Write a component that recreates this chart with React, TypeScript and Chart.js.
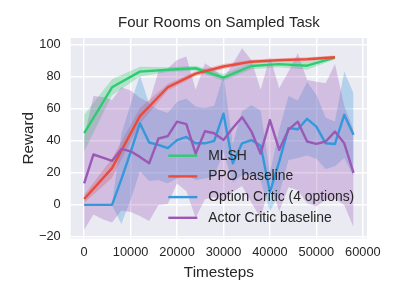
import React, { useEffect, useRef } from 'react';
import { Chart, registerables } from 'chart.js';

Chart.register(...registerables);

// ---- data ----
const stepsCoarse = [0, 6000, 12000, 18000, 24000, 30000, 36000, 42000, 48000, 54000];
const mlshMean = [44.8, 73.5, 83.3, 84.5, 85.4, 79.6, 86.8, 88.0, 87.0, 92.0];
const mlshStd = [11.5, 5, 3, 1.5, 1.5, 2.2, 2, 2, 2.6, 1];
const ppoMean = [3.7, 23.0, 55.5, 73.5, 82.0, 86.5, 89.5, 90.5, 91.0, 92.3];
const ppoStd = [2.5, 6, 5, 2, 1.5, 1.5, 1.2, 1.2, 1.2, 1];

const stepsFine = [
  0, 2000, 4000, 6000, 8000, 10000, 12000, 14000, 16000, 18000,
  20000, 22000, 24000, 26000, 28000, 30000, 32000, 34000, 36000, 38000,
  40000, 42000, 44000, 46000, 48000, 50000, 52000, 54000, 56000, 58000,
];
const ocMean = [
  0, 0, 0, 0, 16, 33, 51, 39, 37.5, 35.5,
  40.5, 42.5, 38.5, 38.5, 40, 57, 26, 38.5, 40.5, 37,
  8, 27, 48, 47.3, 53.8, 48.9, 38.5, 38.1, 56.3, 43.8,
];
const ocStd = [
  0, 0, 0, 0, 28, 30, 30, 24, 22, 22,
  24, 24, 23, 22, 22, 24, 12, 20, 22, 22,
  12, 20, 20, 18, 23, 20, 16, 14, 27, 26,
];
const acMean = [
  13.5, 31.5, 29.5, 27.5, 35, 33.5, 30, 26, 41.5, 43,
  52, 50.5, 32, 46, 44.8, 40.6, 48, 54.8, 46, 32,
  53, 34.4, 47, 52, 39.6, 38.1, 39.6, 45.8, 38.5, 20,
];
const acLower = [
  -15.6, -6, -9, -11, -3.5, -4.5, -7, -10, 0, 0.6,
  13.4, 8.5, -8, 3.5, 4.8, 2, 8, 11.8, 1.4, -8,
  13.3, -4, 11, 9.2, 1.1, -1, 3.2, 3.8, 0, -14,
];
const acUpper = [
  42.6, 68, 67.5, 65.5, 73.5, 71.5, 67, 64, 83.3, 85.4,
  90.6, 92.7, 71.9, 88.5, 84.8, 79.2, 88, 97.9, 90.6, 71.9,
  92.7, 72.9, 83.3, 94.8, 78.1, 77, 76, 88, 62, 47,
];

const seriesNames = ['MLSH', 'PPO baseline', 'Option Critic (4 options)', 'Actor Critic baseline'];
const seriesColors = ['#2ecc71', '#e74c3c', '#3498db', '#9b59b6'];
const bandColors = ['rgba(46,204,113,0.3)', 'rgba(231,76,60,0.3)', 'rgba(52,152,219,0.3)', 'rgba(155,89,182,0.3)'];

const xTicks = [0, 10000, 20000, 30000, 40000, 50000, 60000];
const yTicks = [-20, 0, 20, 40, 60, 80, 100];

const FONT = "'Liberation Sans', Arial, sans-serif";
const TEXT = '#262626';

function pts(xs: number[], ys: number[]) {
  return xs.map((x, i) => ({ x, y: ys[i] }));
}

function bandFromBounds(xs: number[], lower: number[], upper: number[], color: string, order: number) {
  return [
    {
      label: '_lower',
      data: pts(xs, lower),
      borderColor: 'transparent',
      borderWidth: 0,
      pointRadius: 0,
      fill: false,
      order,
    },
    {
      label: '_upper',
      data: pts(xs, upper),
      borderColor: 'transparent',
      borderWidth: 0,
      pointRadius: 0,
      backgroundColor: color,
      fill: '-1',
      order,
    },
  ];
}

function band(xs: number[], mean: number[], std: number[], color: string, order: number) {
  return bandFromBounds(
    xs,
    mean.map((m, i) => m - std[i]),
    mean.map((m, i) => m + std[i]),
    color,
    order,
  );
}

function line(xs: number[], ys: number[], idx: number, order: number) {
  return {
    label: seriesNames[idx],
    data: pts(xs, ys),
    borderColor: seriesColors[idx],
    backgroundColor: seriesColors[idx],
    borderWidth: 2.4,
    pointRadius: 0,
    fill: false,
    tension: 0,
    borderJoinStyle: 'round' as const,
    order,
  };
}

const bgPlugin = {
  id: 'bgPlugin',
  beforeDraw(chart: any) {
    const { ctx, chartArea } = chart;
    ctx.save();
    ctx.fillStyle = '#ffffff';
    ctx.fillRect(0, 0, chart.width, chart.height);
    ctx.fillStyle = '#EAEAF2';
    ctx.fillRect(chartArea.left, chartArea.top, chartArea.right - chartArea.left, chartArea.bottom - chartArea.top);
    ctx.restore();
  },
};

const legendPlugin = {
  id: 'mplLegend',
  afterDraw(chart: any) {
    const { ctx, chartArea } = chart;
    ctx.save();
    ctx.font = `13.9px ${FONT}`;
    ctx.textBaseline = 'middle';
    ctx.textAlign = 'left';
    const x0 = chartArea.left + 97.6;
    const y0 = chartArea.top + 117.7;
    seriesNames.forEach((name, i) => {
      const y = y0 + i * 20.7;
      ctx.strokeStyle = seriesColors[i];
      ctx.lineWidth = 2.4;
      ctx.beginPath();
      ctx.moveTo(x0, y);
      ctx.lineTo(x0 + 29, y);
      ctx.stroke();
      ctx.fillStyle = TEXT;
      ctx.fillText(name, x0 + 40, y);
    });
    ctx.restore();
  },
};

export default function App() {
  const ref = useRef<HTMLCanvasElement>(null);
  useEffect(() => {
    const canvas = ref.current;
    if (!canvas) return;
    const datasets: any[] = [
      line(stepsFine, acMean, 3, 0),
      line(stepsFine, ocMean, 2, 1),
      line(stepsCoarse, ppoMean, 1, 2),
      line(stepsCoarse, mlshMean, 0, 3),
      ...bandFromBounds(stepsFine, acLower, acUpper, bandColors[3], 4),
      ...band(stepsFine, ocMean, ocStd, bandColors[2], 5),
      ...band(stepsCoarse, ppoMean, ppoStd, bandColors[1], 6),
      ...band(stepsCoarse, mlshMean, mlshStd, bandColors[0], 7),
    ];
    const chart = new Chart(canvas, {
      type: 'line',
      data: { datasets },
      plugins: [bgPlugin, legendPlugin],
      options: {
        animation: false,
        responsive: false,
        devicePixelRatio: 1,
        layout: { padding: { left: 0, right: 33, top: 0, bottom: 0 } },
        plugins: {
          legend: { display: false },
          tooltip: { enabled: false },
          title: {
            display: true,
            fullSize: false,
            align: 'center',
            text: 'Four Rooms on Sampled Task',
            color: TEXT,
            font: { size: 15, family: FONT, weight: 'normal' },
            padding: { top: 13.5, bottom: 6.5 },
          },
        },
        scales: {
          x: {
            type: 'linear',
            min: -2900,
            max: 60900,
            afterBuildTicks: (s: any) => {
              s.ticks = xTicks.map((v) => ({ value: v }));
            },
            afterFit: (s: any) => {
              s.height = 61.5;
            },
            ticks: {
              color: TEXT,
              font: { size: 12.8, family: FONT },
              padding: 6.2,
              maxRotation: 0,
              callback: (v: any) => String(v),
            },
            grid: { color: '#ffffff', lineWidth: 1.4, drawTicks: false },
            border: { display: false },
            title: {
              display: true,
              text: 'Timesteps',
              color: TEXT,
              font: { size: 15.3, family: FONT },
              padding: { top: 0, bottom: 17.8 },
            },
          },
          y: {
            type: 'linear',
            min: -21,
            max: 104.3,
            afterBuildTicks: (s: any) => {
              s.ticks = yTicks.map((v) => ({ value: v }));
            },
            afterFit: (s: any) => {
              s.width = 70.7;
            },
            ticks: {
              color: TEXT,
              font: { size: 12.8, family: FONT },
              padding: 10,
              callback: (v: any) => (v < 0 ? '\u2212' + Math.abs(v) : String(v)),
            },
            grid: { color: '#ffffff', lineWidth: 1.4, drawTicks: false },
            border: { display: false },
            title: {
              display: true,
              text: 'Reward',
              color: TEXT,
              font: { size: 15.3, family: FONT },
              padding: { top: 20, bottom: 0 },
            },
          },
        },
      },
    } as any);
    return () => chart.destroy();
  }, []);
  return (
    <div style={{ position: 'fixed', left: 0, top: 0, width: 400, height: 300, background: '#ffffff' }}>
      <canvas ref={ref} width={400} height={300} style={{ display: 'block' }} />
    </div>
  );
}
